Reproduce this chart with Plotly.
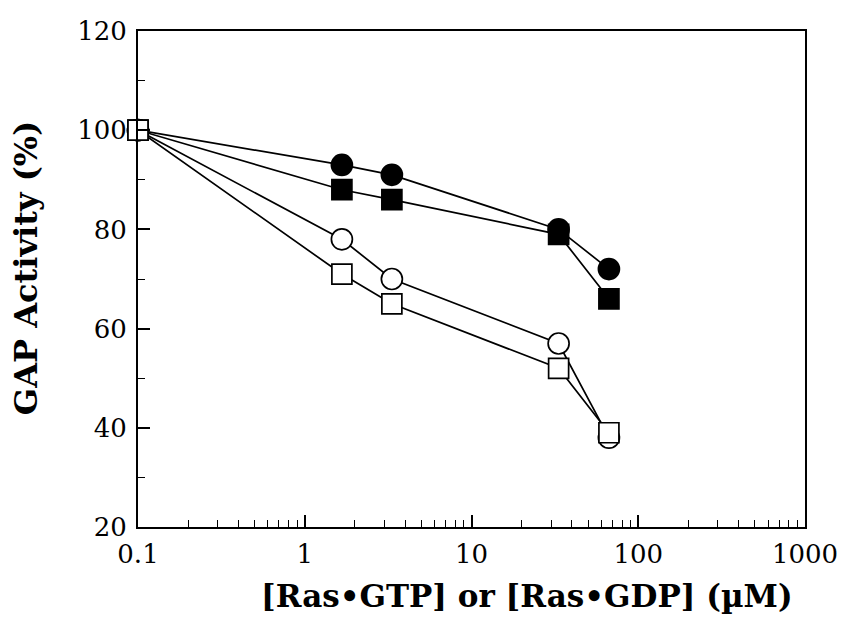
import plotly.graph_objects as go

conc = [0.1, 1.67, 3.33, 33.3, 66.7]
filled_circle = [100, 93, 91, 80, 72]
filled_square = [100, 88, 86, 79, 66]
open_circle = [100, 78, 70, 57, 38]
open_square = [100, 71, 65, 52, 39]

x_tickvals = [0.1, 1, 10, 100, 1000]
x_ticktext = ["0.1", "1", "10", "100", "1000"]
y_tickvals = [20, 40, 60, 80, 100, 120]

series = [
    ("filled circle", filled_circle, "circle", "black"),
    ("filled square", filled_square, "square", "black"),
    ("open circle", open_circle, "circle", "white"),
    ("open square", open_square, "square", "white"),
]

fig = go.Figure()
for name, ys, sym, fill in series:
    fig.add_trace(go.Scatter(
        x=conc, y=ys, name=name, mode="lines+markers",
        line=dict(color="black", width=1.7),
        marker=dict(symbol=sym, size=21 if sym == "circle" else 20, color=fill,
                    line=dict(color="black", width=1.7)),
        showlegend=False, cliponaxis=False,
    ))

font_fam = "DejaVu Serif"
fig.update_layout(
    width=850, height=629,
    margin=dict(l=138, r=38, t=31, b=102),
    plot_bgcolor="white", paper_bgcolor="white",
    font=dict(family=font_fam, color="black"),
    xaxis=dict(
        type="log", range=[-1, 3],
        tickvals=x_tickvals, ticktext=x_ticktext,
        ticks="inside", ticklen=12, tickwidth=1.5, tickcolor="black",
        minor=dict(ticks="inside", ticklen=7, tickwidth=1.2, tickcolor="black",
                   dtick="D1", showgrid=False),
        showline=True, linecolor="black", linewidth=1.8, mirror=True,
        showgrid=False, zeroline=False,
        tickfont=dict(family=font_fam, size=26, color="black"),
        ticklabelstandoff=3,
    ),
    yaxis=dict(
        range=[20, 120],
        tickvals=y_tickvals,
        ticks="inside", ticklen=12, tickwidth=1.5, tickcolor="black",
        minor=dict(ticks="inside", ticklen=7, tickwidth=1.2, tickcolor="black",
                   dtick=10, showgrid=False),
        showline=True, linecolor="black", linewidth=1.8, mirror=True,
        showgrid=False, zeroline=False,
        tickfont=dict(family=font_fam, size=26, color="black"),
        ticklabelstandoff=4,
    ),
    annotations=[
        dict(text="<b>[Ras\u2022GTP] or [Ras\u2022GDP] (\u00b5M)</b>",
             x=531, y=629 - 596, xref="paper", yref="paper",
             showarrow=False, font=dict(family=font_fam, size=31, color="black")),
        dict(text="<b>GAP Activity (%)</b>", textangle=-90,
             x=25, y=629 - 268, xref="paper", yref="paper",
             showarrow=False, font=dict(family=font_fam, size=32, color="black")),
    ],
)

# convert pixel positions to paper coordinates
pw = 850 - 138 - 38
ph = 629 - 31 - 102
for ann in fig.layout.annotations:
    ann.x = (ann.x - 138) / pw
    ann.y = (ann.y - 102) / ph
    ann.xanchor = "center"
    ann.yanchor = "middle"

fig.write_html("out.html")
